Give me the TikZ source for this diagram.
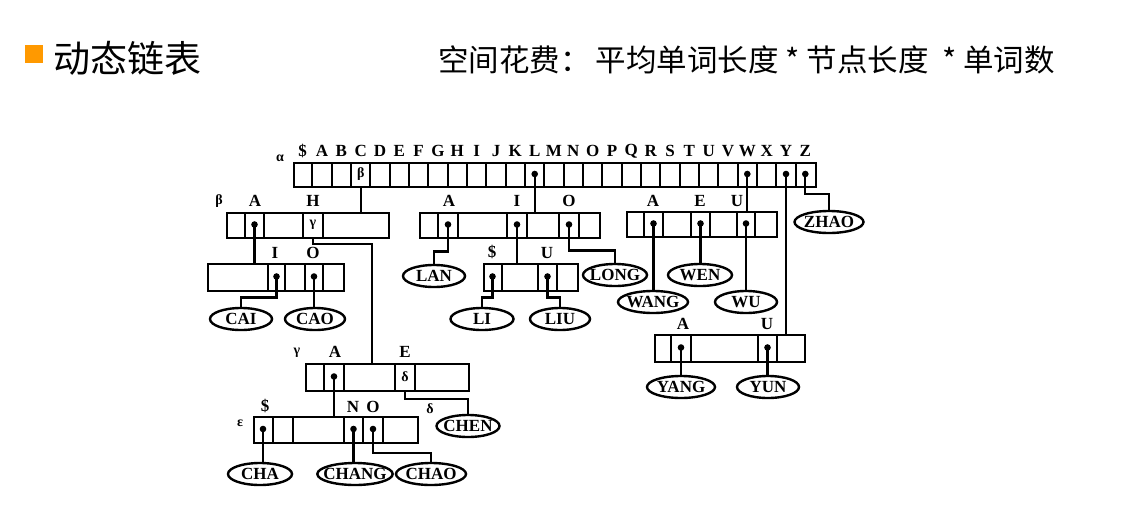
\documentclass[tikz,border=0pt]{standalone}
\usepackage{fontspec}
\setmainfont{Liberation Serif}
\newfontfamily\cjk{Noto Sans CJK SC}
\usetikzlibrary{shapes.geometric}
\definecolor{titleorange}{RGB}{255,153,0}

\begin{document}
\begin{tikzpicture}[x=1pt,y=-1pt,
    rec/.style={draw, line width=2.4pt, inner sep=0pt, anchor=north west, minimum height=25pt},
    bar/.style={line width=2.2pt},
    ptr/.style={line width=2.2pt},
    word/.style={ellipse, draw, line width=2.4pt, minimum width=#1pt, minimum height=22pt,
                 inner xsep=-5pt, inner ysep=0pt, font=\bfseries\fontsize{17}{17}\selectfont},
    word/.default=62,
    lab/.style={inner sep=0pt, font=\bfseries\fontsize{17}{17}\selectfont},
    greek/.style={inner sep=0pt, font=\bfseries\fontsize{14}{14}\selectfont}]
    \useasboundingbox (0,0) rectangle (1145,527);

    % header
    \fill [titleorange] (25,45) rectangle (43,63);
    \node [anchor=west, inner sep=0pt, font=\cjk\fontsize{37}{37}\selectfont] (title) at (53,58) {动态链表};
    \node [anchor=west, inner sep=0pt, font=\cjk\fontsize{30.5}{30.5}\selectfont] (cost) at (438,60) {空间花费：\,平均单词长度 * 节点长度\ \ * 单词数};

    % root array alpha
    \node [rec, minimum width=522pt, minimum height=24pt] (top) at (293,162) {};
    \foreach \i in {1,...,26}
      \draw [bar] ({293+19.333*\i},162) -- ++(0,24);
    \foreach \c [count=\i from 0] in {\$,A,B,C,D,E,F,G,H,I,J,K,L,M,N,O,P,Q,R,S,T,U,V,W,X,Y,Z}
      \node [lab] at ({302.67+19.333*\i},151) {\c};
    \node [greek] at (280,158) {α};
    \node [greek] at (360.7,174) {β};
    \coordinate (cC) at (360.7,186);
    \fill (534.7,174) circle (3.3pt) coordinate (pL);
    \fill (747.3,174) circle (3.3pt) coordinate (pW);
    \fill (786,174) circle (3.3pt) coordinate (pY);
    \fill (805.3,174) circle (3.3pt) coordinate (pZ);

    % beta
    \node [rec, minimum width=162pt] (beta) at (226,212) {};
    \foreach \x in {245,264,303,323}
      \draw [bar] (\x,212) -- ++(0,25);
    \node [greek] at (219,201) {β};
    \node [lab] at (255,201) {A};
    \node [lab] at (313,201) {H};
    \node [greek] at (313,224.5) {γ};
    \fill (254.5,224.5) circle (3.3pt) coordinate (pBA);
    \coordinate (cH) at (313,237);

    % L
    \node [rec, minimum width=180pt] (lnode) at (419,212) {};
    \foreach \x in {438,458,507,527,559,579}
      \draw [bar] (\x,212) -- ++(0,25);
    \node [lab] at (449,201) {A};
    \node [lab] at (517,201) {I};
    \node [lab] at (569,201) {O};
    \fill (448,224.5) circle (3.3pt) coordinate (pLA);
    \fill (517,224.5) circle (3.3pt) coordinate (pLI);
    \fill (569,224.5) circle (3.3pt) coordinate (pLO);

    % W
    \node [rec, minimum width=150pt] (wnode) at (626,211) {};
    \foreach \x in {644,663,691,710,737,755}
      \draw [bar] (\x,211) -- ++(0,25);
    \node [lab] at (653,201) {A};
    \node [lab] at (700,201) {E};
    \node [lab] at (737,201) {U};
    \fill (653.5,223.5) circle (3.3pt) coordinate (pWA);
    \fill (700.5,223.5) circle (3.3pt) coordinate (pWE);
    \fill (746,223.5) circle (3.3pt) coordinate (pWU);

    % BA
    \node [rec, minimum width=136pt, minimum height=27pt] (anode) at (207,263) {};
    \foreach \x in {268,285,305,323}
      \draw [bar] (\x,263) -- ++(0,27);
    \node [lab] at (275,253) {I};
    \node [lab] at (313,253) {O};
    \fill (276.5,276.5) circle (3.3pt) coordinate (pAI);
    \fill (314,276.5) circle (3.3pt) coordinate (pAO);

    % LI
    \node [rec, minimum width=94pt, minimum height=27pt] (inode) at (483,263) {};
    \foreach \x in {502,538,557}
      \draw [bar] (\x,263) -- ++(0,27);
    \node [lab] at (492,252) {\$};
    \node [lab] at (547,253) {U};
    \fill (492.5,276.5) circle (3.3pt) coordinate (pID);
    \fill (547.5,276.5) circle (3.3pt) coordinate (pIU);

    % Y
    \node [rec, minimum width=150pt, minimum height=27pt] (ynode) at (654,334) {};
    \foreach \x in {671,691,758,777}
      \draw [bar] (\x,334) -- ++(0,27);
    \node [lab] at (683,324) {A};
    \node [lab] at (767,324) {U};
    \fill (681,347.5) circle (3.3pt) coordinate (pYA);
    \fill (767.5,347.5) circle (3.3pt) coordinate (pYU);

    % gamma
    \node [rec, minimum width=163pt, minimum height=27pt] (gnode) at (305,363) {};
    \foreach \x in {324,344,395,415}
      \draw [bar] (\x,363) -- ++(0,27);
    \node [greek] at (297,353) {γ};
    \node [lab] at (335,352) {A};
    \node [lab] at (405,352) {E};
    \node [greek] at (405,376.5) {δ};
    \fill (334,376.5) circle (3.3pt) coordinate (pGA);
    \coordinate (cE) at (405,390);
    \node [greek] at (430,409) {δ};

    % epsilon
    \node [rec, minimum width=164pt, minimum height=26pt] (enode) at (253,416) {};
    \foreach \x in {273,293,344,363,383}
      \draw [bar] (\x,416) -- ++(0,26);
    \node [greek] at (240,423) {ε};
    \node [lab] at (265,406) {\$};
    \node [lab] at (353,407) {N};
    \node [lab] at (373,407) {O};
    \fill (263,429) circle (3.3pt) coordinate (pED);
    \fill (353.5,429) circle (3.3pt) coordinate (pEN);
    \fill (373,429) circle (3.3pt) coordinate (pEO);

    % words
    \node [word=69] (zhao) at (829,222) {ZHAO};
    \node [word] (cai) at (241,319) {CAI};
    \node [word=60] (cao) at (315,319) {CAO};
    \node [word] (lan) at (434,276) {LAN};
    \node [word=63] (li) at (482,319) {LI};
    \node [word=60] (liu) at (560,319) {LIU};
    \node [word=64] (long) at (615,275) {LONG};
    \node [word=64] (wen) at (700,275) {WEN};
    \node [word=70] (wang) at (653,302) {WANG};
    \node [word] (wu) at (746,302) {WU};
    \node [word=68] (yang) at (681,387) {YANG};
    \node [word] (yun) at (768,387) {YUN};
    \node [word=63] (chen) at (468,426) {CHEN};
    \node [word=64] (cha) at (260,474) {CHA};
    \node [word=75] (chang) at (355,474) {CHANG};
    \node [word=70] (chao) at (431,474) {CHAO};

    % pointers
    \draw [ptr] (cC) -- (cC |- beta.north);
    \draw [ptr] (pL) -- (pL |- lnode.north);
    \draw [ptr] (pW) -- (pW |- wnode.north);
    \draw [ptr] (pY) -- (pY |- ynode.north);
    \draw [ptr] (pZ) -- ++(0,20) -| (zhao);
    \draw [ptr] (pBA) -- (pBA |- anode.north);
    \draw [ptr] (cH) -- ++(0,7) -| ([xshift=-15.5pt]gnode.north);
    \draw [ptr] (pAI) -- ++(0,21) -| (cai);
    \draw [ptr] (pAO) -- (pAO |- cao.north);
    \draw [ptr] (pLA) -- ++(0,27) -| (lan);
    \draw [ptr] (pLI) -- (pLI |- inode.north);
    \draw [ptr] (pLO) -- ++(0,26) -| (long);
    \draw [ptr] (pID) -- ++(0,21) -| (li);
    \draw [ptr] (pIU) -- ++(0,21) -| (liu);
    \draw [ptr] (pWA) -- (pWA |- wang.north);
    \draw [ptr] (pWE) -- (pWE |- wen.north);
    \draw [ptr] (pWU) -- (pWU |- wu.north);
    \draw [ptr] (pYA) -- (pYA |- yang.north);
    \draw [ptr] (pYU) -- (pYU |- yun.north);
    \draw [ptr] (pGA) -- (pGA |- enode.north);
    \draw [ptr] (cE) -- ++(0,9) -| (chen);
    \draw [ptr] (pED) -- (pED |- cha.north);
    \draw [ptr] (pEN) -- (pEN |- chang.north);
    \draw [ptr] (pEO) -- ++(0,24) -| (chao);
\end{tikzpicture}
\end{document}
